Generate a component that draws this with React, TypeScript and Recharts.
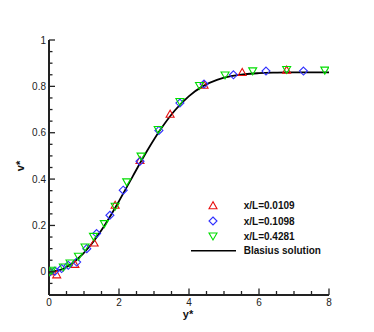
import React from "react";
import { ComposedChart, Scatter, Line, XAxis, YAxis, Legend } from "recharts";

// ---- data ----
const blasiusX = [0, 0.4, 0.8, 1.2, 1.6, 2.0, 2.4, 2.8, 3.2, 3.6, 4.0, 4.4, 4.8, 5.2, 5.6, 6.0, 6.4, 6.8, 7.2, 7.6, 8.0];
const blasiusV = [0, 0.013, 0.053, 0.117, 0.203, 0.305, 0.414, 0.521, 0.617, 0.697, 0.758, 0.801, 0.828, 0.844, 0.853, 0.857, 0.859, 0.86, 0.86, 0.86, 0.86];

const redX = [0.02, 0.22, 0.74, 1.29, 1.89, 2.6, 3.46, 4.43, 5.52, 6.79];
const redV = [0.0, -0.013, 0.032, 0.124, 0.287, 0.48, 0.68, 0.805, 0.86, 0.87];

const blueX = [0.03, 0.17, 0.36, 0.55, 0.79, 1.08, 1.36, 1.74, 2.12, 2.6, 3.14, 3.74, 4.43, 5.27, 6.2, 7.27];
const blueV = [0.0, 0.003, 0.014, 0.028, 0.042, 0.1, 0.165, 0.244, 0.352, 0.477, 0.61, 0.728, 0.81, 0.85, 0.866, 0.866];

const greenX = [0.0, 0.08, 0.41, 0.6, 0.84, 1.03, 1.27, 1.58, 1.89, 2.22, 2.63, 3.12, 3.74, 4.3, 5.03, 5.82, 6.79, 7.88];
const greenV = [0.0, 0.007, 0.021, 0.038, 0.067, 0.107, 0.153, 0.208, 0.283, 0.388, 0.499, 0.614, 0.735, 0.804, 0.849, 0.867, 0.873, 0.87];

const seriesNames = ["x/L=0.0109", "x/L=0.1098", "x/L=0.4281", "Blasius solution"];

const xMajorTicks = [0, 2, 4, 6, 8];
const xMajorLabels = ["0", "2", "4", "6", "8"];
const xMinorTicks = [0.5, 1, 1.5, 2.5, 3, 3.5, 4.5, 5, 5.5, 6.5, 7, 7.5];

const yMajorTicks = [0, 0.2, 0.4, 0.6, 0.8, 1];
const yMajorLabels = ["0", "0.2", "0.4", "0.6", "0.8", "1"];
const yMinorTicks = [-0.1, -0.05, 0.05, 0.1, 0.15, 0.25, 0.3, 0.35, 0.45, 0.5, 0.55, 0.65, 0.7, 0.75, 0.85, 0.9, 0.95];

// ---- build ----
const zip = (xs: number[], ys: number[]) => xs.map((x, i) => ({ x, y: ys[i] }));
const blasiusData = zip(blasiusX, blasiusV);
const redData = zip(redX, redV);
const blueData = zip(blueX, blueV);
const greenData = zip(greenX, greenV);

const RED = "#e81010";
const BLUE = "#3030ff";
const GREEN = "#00dd00";
const FONT = "'Liberation Sans', Arial, Helvetica, sans-serif";
const R = 4;

const majorIndex = (arr: number[], v: number) => arr.findIndex((t) => Math.abs(t - v) < 1e-9);

const TriUp = ({ cx, cy, color }: any) => (
  <polygon
    points={`${cx},${cy - R} ${cx - R},${cy + R * 0.75} ${cx + R},${cy + R * 0.75}`}
    fill="none"
    stroke={color}
    strokeWidth={1.1}
  />
);
const TriDown = ({ cx, cy, color }: any) => (
  <polygon
    points={`${cx},${cy + R} ${cx - R},${cy - R * 0.75} ${cx + R},${cy - R * 0.75}`}
    fill="none"
    stroke={color}
    strokeWidth={1.1}
  />
);
const Diamond = ({ cx, cy, color }: any) => (
  <polygon
    points={`${cx},${cy - R} ${cx + R},${cy} ${cx},${cy + R} ${cx - R},${cy}`}
    fill="none"
    stroke={color}
    strokeWidth={1.1}
  />
);

const YTick = (props: any) => {
  const { x, y, payload } = props;
  const i = majorIndex(yMajorTicks, payload.value);
  const major = i >= 0;
  return (
    <g>
      <line x1={x} y1={y} x2={x + (major ? 6 : 3.5)} y2={y} stroke="#222" strokeWidth={1.3} />
      {major && (
        <text x={x - 3} y={y} dy={3.6} textAnchor="end" fontSize={10} fontFamily={FONT} fill="#222">
          {yMajorLabels[i]}
        </text>
      )}
    </g>
  );
};

const XTick = (props: any) => {
  const { x, y, payload } = props;
  const i = majorIndex(xMajorTicks, payload.value);
  const major = i >= 0;
  return (
    <g>
      <line x1={x} y1={y} x2={x} y2={y - (major ? 6.5 : 4)} stroke="#222" strokeWidth={1.3} />
      {major && (
        <text x={x} y={y + 10.5} textAnchor="middle" fontSize={10} fontFamily={FONT} fill="#222">
          {xMajorLabels[i]}
        </text>
      )}
    </g>
  );
};

const LegendContent = () => {
  const rows = [9.7, 25, 40, 54.7];
  const mx = 28;
  const tx = 58.7;
  return (
    <svg width={150} height={64} style={{ display: "block" }}>
      <TriUp cx={mx} cy={rows[0]} color={RED} />
      <Diamond cx={mx} cy={rows[1]} color={BLUE} />
      <TriDown cx={mx} cy={rows[2]} color={GREEN} />
      <line x1={6} y1={rows[3]} x2={51} y2={rows[3]} stroke="#000" strokeWidth={1.6} />
      {seriesNames.map((n, i) => (
        <text key={n} x={tx} y={rows[i]} dy={3.6} fontSize={10} fontWeight="bold" fontFamily={FONT} fill="#111">
          {n}
        </text>
      ))}
    </svg>
  );
};

export default function App() {
  const xTicks = [...xMajorTicks, ...xMinorTicks].sort((a, b) => a - b);
  const yTicks = [...yMajorTicks, ...yMinorTicks].sort((a, b) => a - b);
  return (
    <div style={{ position: "absolute", left: 0, top: 0, width: 374, height: 332, background: "#fff" }}>
      <ComposedChart width={374} height={332} margin={{ top: 40, right: 45, bottom: 0, left: 0 }}>
        <XAxis
          type="number"
          dataKey="x"
          domain={[0, 8]}
          ticks={xTicks}
          interval={0}
          tickSize={0}
          tickMargin={0}
          tickLine={false}
          axisLine={{ stroke: "#222", strokeWidth: 2 }}
          height={37}
          tick={(p: any) => <XTick {...p} />}
          allowDataOverflow
          label={() => (
            <text x={188} y={318} textAnchor="middle" fontSize={11} fontWeight="bold" fontFamily={FONT} fill="#111">
              y*
            </text>
          )}
        />
        <YAxis
          type="number"
          dataKey="y"
          domain={[-0.1, 1]}
          ticks={yTicks}
          interval={0}
          tickSize={0}
          tickMargin={0}
          tickLine={false}
          axisLine={{ stroke: "#222", strokeWidth: 2 }}
          width={49}
          tick={(p: any) => <YTick {...p} />}
          allowDataOverflow
          label={() => (
            <text
              x={24}
              y={166}
              textAnchor="middle"
              fontSize={11}
              fontWeight="bold"
              fontFamily={FONT}
              fill="#111"
              transform="rotate(-90 24 166)"
            >
              v*
            </text>
          )}
        />
        <Line
          data={blasiusData}
          dataKey="y"
          type="monotone"
          stroke="#000"
          strokeWidth={1.8}
          dot={false}
          activeDot={false}
          isAnimationActive={false}
          legendType="none"
        />
        <Scatter data={redData} dataKey="y" isAnimationActive={false} shape={(p: any) => <TriUp cx={p.cx} cy={p.cy} color={RED} />} />
        <Scatter data={blueData} dataKey="y" isAnimationActive={false} shape={(p: any) => <Diamond cx={p.cx} cy={p.cy} color={BLUE} />} />
        <Scatter data={greenData} dataKey="y" isAnimationActive={false} shape={(p: any) => <TriDown cx={p.cx} cy={p.cy} color={GREEN} />} />
        <Legend
          layout="vertical"
          align="center"
          verticalAlign="middle"
          content={() => <LegendContent />}
          wrapperStyle={{ position: "absolute", left: 185, top: 196, width: 150, height: 64 }}
        />
      </ComposedChart>
    </div>
  );
}
